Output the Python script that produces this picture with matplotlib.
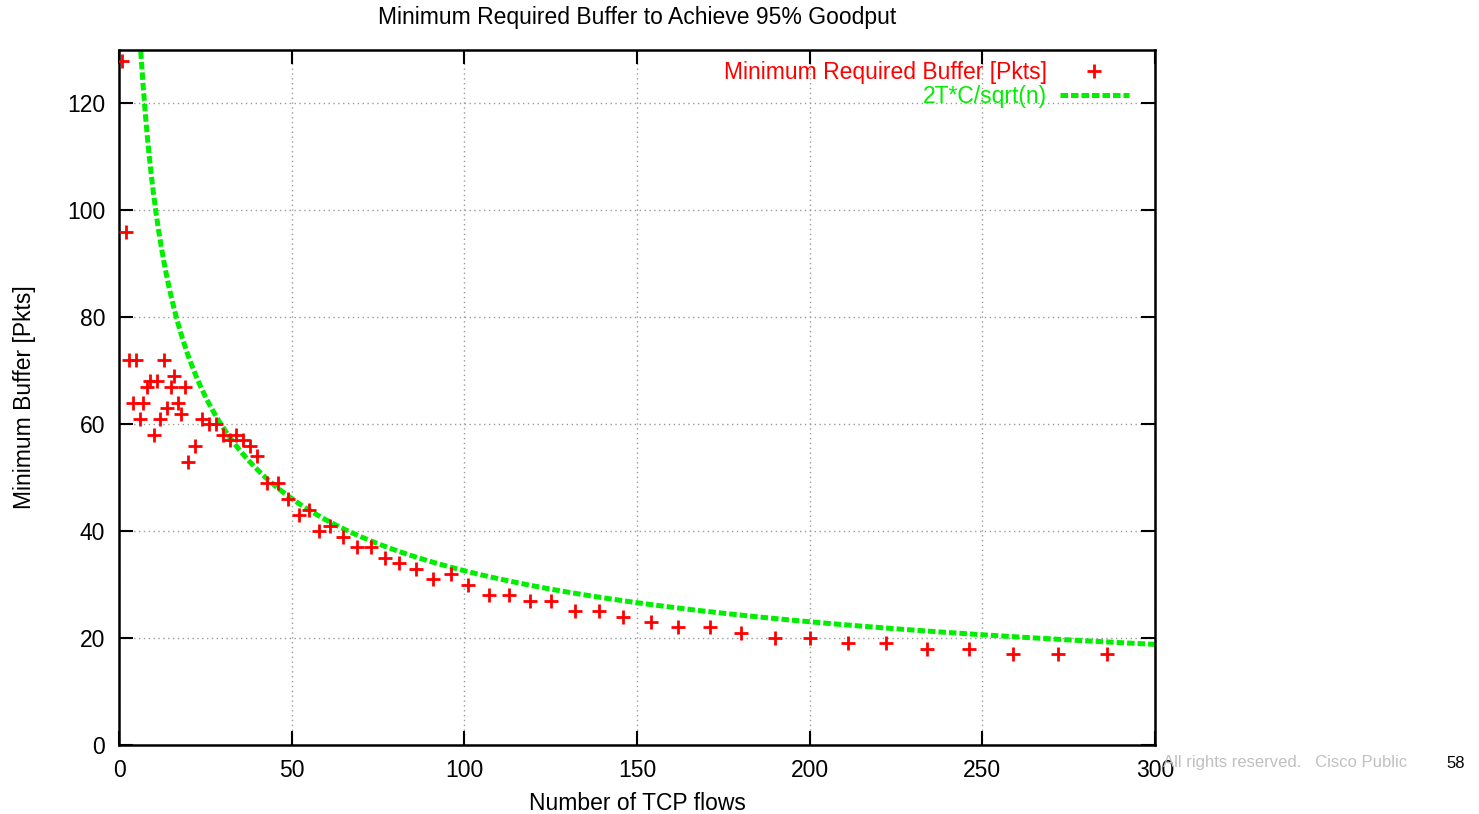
import numpy as np
import matplotlib
matplotlib.use("Agg")
import matplotlib.pyplot as plt

plt.rcParams['font.family'] = ['Liberation Sans', 'DejaVu Sans']

# Measured minimum buffer (packets) vs number of TCP flows
flows = [1, 2, 3, 4, 5, 6, 7, 8, 9, 10, 11, 12, 13, 14, 15, 16, 17, 18, 19, 20,
         22, 24, 26, 28, 30, 32, 34, 36, 38, 40, 43, 46, 49, 52, 55, 58, 61, 65,
         69, 73, 77, 81, 86, 91, 96, 101, 107, 113, 119, 125, 132, 139, 146, 154,
         162, 171, 180, 190, 200, 211, 222, 234, 246, 259, 272, 286]
min_buffer = [128, 96, 72, 64, 72, 61, 64, 67, 68, 58, 68, 61, 72, 63, 67, 69, 64, 62, 67, 53,
              56, 61, 60, 60, 58, 57, 58, 57, 56, 54, 49, 49, 46, 43, 44, 40, 41, 39,
              37, 37, 35, 34, 33, 31, 32, 30, 28, 28, 27, 27, 25, 25, 24, 23,
              22, 22, 21, 20, 20, 19, 19, 18, 18, 17, 17, 17]

# Model: 2T*C / sqrt(n)
two_tc = 326.0

x_ticks = [0, 50, 100, 150, 200, 250, 300]
y_ticks = [0, 20, 40, 60, 80, 100, 120]

FS = 16.5

fig = plt.figure(figsize=(14.79, 8.14), dpi=100)
ax = fig.add_axes([119 / 1479, 1 - 745 / 814, (1155 - 119) / 1479, (745 - 50) / 814])

ax.plot(flows, min_buffer, linestyle='none', marker='+', color='#ff0000',
        markersize=9.5, markeredgewidth=2.0, label='Minimum Required Buffer [Pkts]', zorder=3)

n = np.linspace(1, 300, 2000)
line, = ax.plot(n, two_tc / np.sqrt(n), color='#00ee00', linewidth=3.6,
                label='2T*C/sqrt(n)', zorder=2)
line.set_dashes([1.5, 0.6])

ax.set_xlim(0, 300)
ax.set_ylim(0, 130)
ax.set_xticks(x_ticks)
ax.set_yticks(y_ticks)
ax.tick_params(direction='in', length=10, width=1.5, top=True, right=True,
               labelsize=FS, pad=10)
for s in ax.spines.values():
    s.set_linewidth(1.8)
ax.grid(True, linestyle=(0, (1, 2.5)), color='#9a9a9a', linewidth=1.0)

ax.set_title('Minimum Required Buffer to Achieve 95% Goodput', fontsize=FS, pad=19)
ax.set_xlabel('Number of TCP flows', fontsize=FS, labelpad=7)
ax.set_ylabel('Minimum Buffer [Pkts]', fontsize=FS, labelpad=22)

leg = ax.legend(loc='upper right', bbox_to_anchor=(0.99, 1.007), frameon=False,
                markerfirst=False, labelcolor='linecolor', fontsize=FS,
                handlelength=3.0, handletextpad=0.55, borderaxespad=0.3,
                labelspacing=0.05)

fig.text(1163 / 1479, 1 - 763 / 814, 'All rights reserved.   Cisco Public',
         fontsize=12, color='#c0c0c0', va='center', ha='left', zorder=0)
fig.text(1446 / 1479, 1 - 763 / 814, '58', fontsize=12, color='black',
         va='center', ha='left')

fig.savefig('out.png', dpi=100)
